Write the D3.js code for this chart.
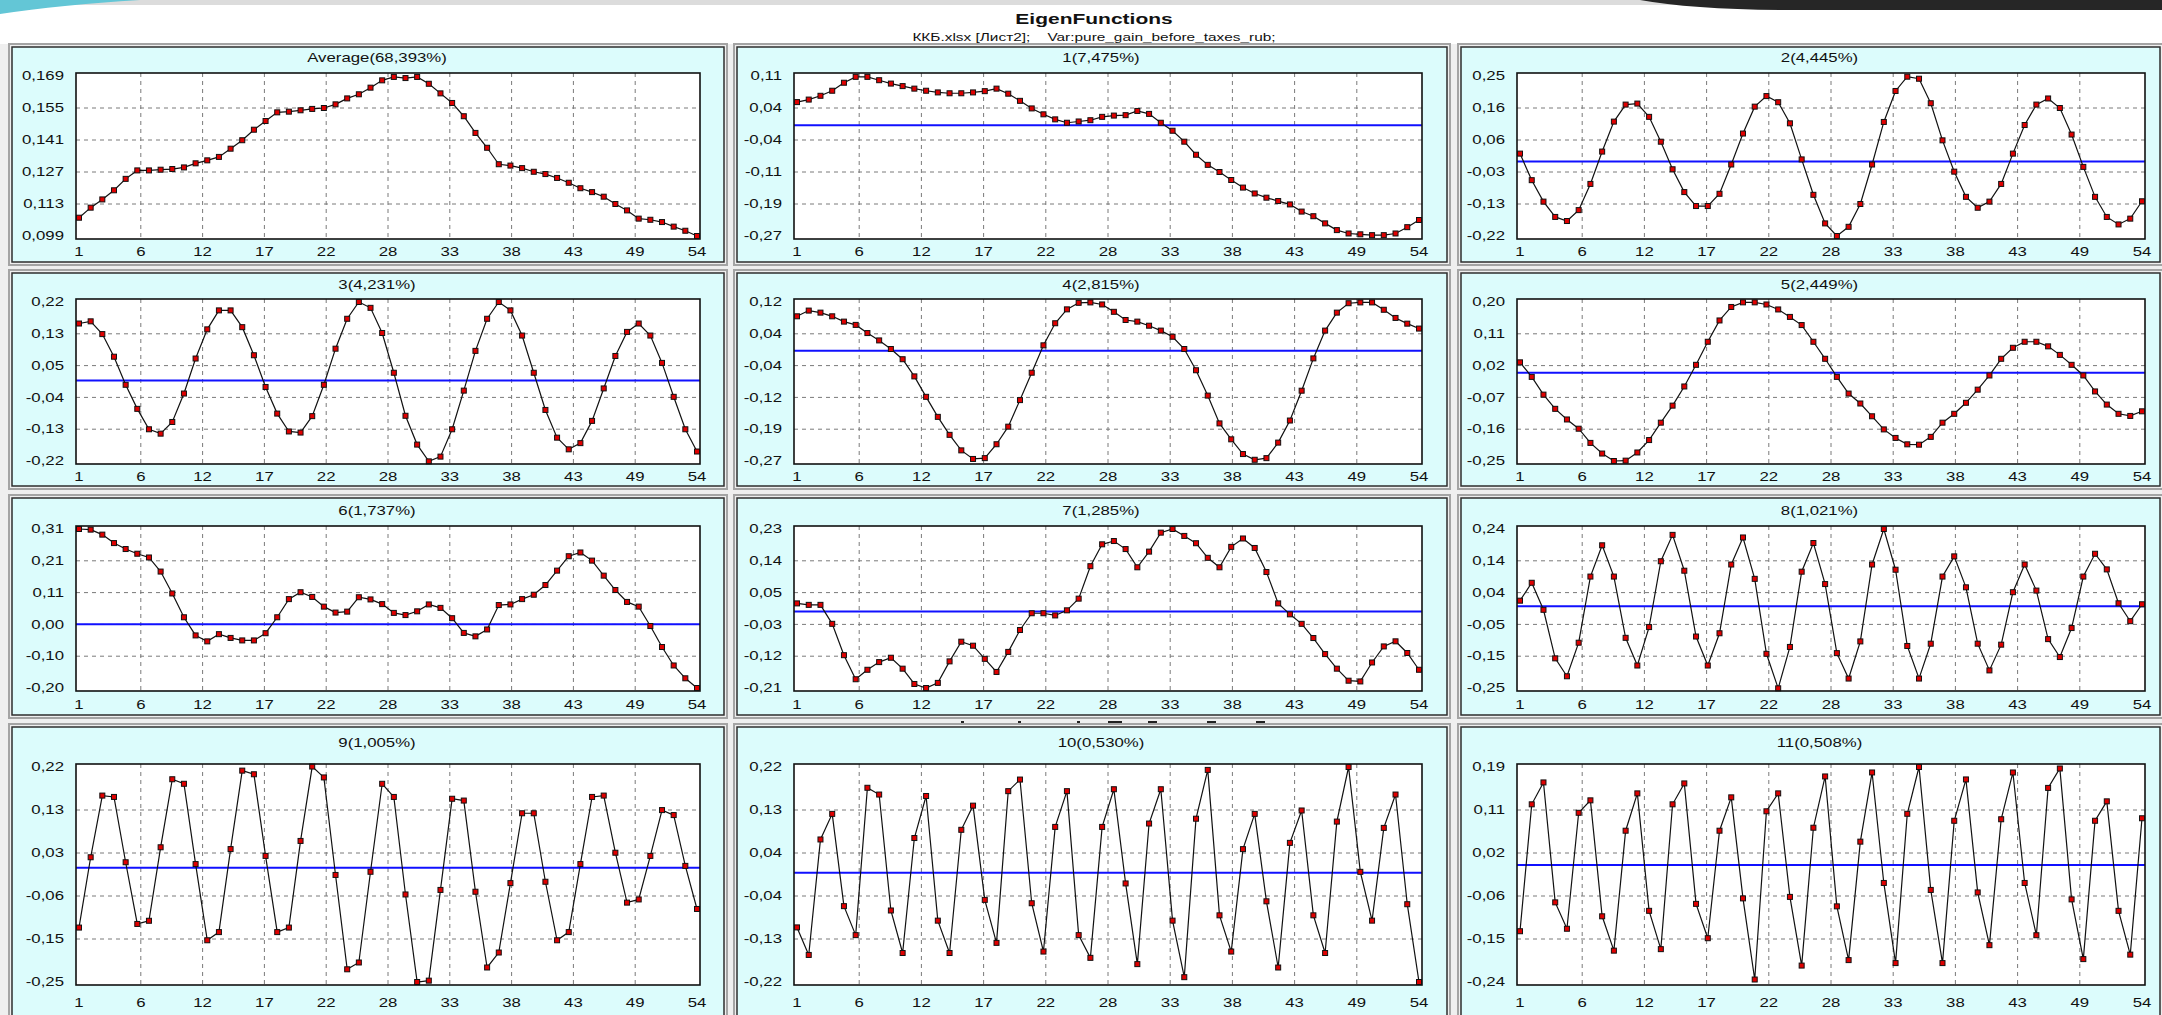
<!DOCTYPE html>
<html>
<head>
<meta charset="utf-8">
<script src="https://cdn.jsdelivr.net/npm/d3@7"></script>
<style>
body { margin: 0; background: #fff; }
svg { display: block; }
</style>
</head>
<body>
<script>
// x categories: observation number 1..54
const points = d3.range(1, 55);
const xTickValues = [1, 6.3, 11.6, 16.9, 22.2, 27.5, 32.8, 38.1, 43.4, 48.7, 54];
const xTickLabels = ["1", "6", "12", "17", "22", "28", "33", "38", "43", "49", "54"];

const panelTitles = ["Average(68,393%)", "1(7,475%)", "2(4,445%)", "3(4,231%)", "4(2,815%)", "5(2,449%)",
    "6(1,737%)", "7(1,285%)", "8(1,021%)", "9(1,005%)", "10(0,530%)", "11(0,508%)"];

const avgValues = [0.107, 0.1114, 0.115, 0.119, 0.124, 0.1277, 0.1277, 0.128, 0.1283, 0.129,
    0.1308, 0.1321, 0.1336, 0.1372, 0.1409, 0.1455, 0.1493, 0.1531, 0.1534, 0.154,
    0.1546, 0.155, 0.1566, 0.1592, 0.161, 0.1639, 0.1671, 0.1686, 0.1681, 0.1686,
    0.1656, 0.1614, 0.1572, 0.1514, 0.1441, 0.1376, 0.1304, 0.1298, 0.1287, 0.1271,
    0.1261, 0.1244, 0.1223, 0.1199, 0.1182, 0.1162, 0.113, 0.1102, 0.1066, 0.1061,
    0.1051, 0.1031, 0.1013, 0.099];
const ef1 = [0.055, 0.061, 0.070, 0.082, 0.101, 0.115, 0.115, 0.107, 0.099, 0.093,
    0.087, 0.082, 0.078, 0.076, 0.076, 0.078, 0.081, 0.087, 0.075, 0.058,
    0.040, 0.026, 0.014, 0.006, 0.009, 0.012, 0.020, 0.023, 0.024, 0.034,
    0.027, 0.006, -0.013, -0.039, -0.070, -0.094, -0.111, -0.130, -0.148, -0.162,
    -0.172, -0.180, -0.188, -0.205, -0.216, -0.233, -0.249, -0.257, -0.259, -0.261,
    -0.261, -0.257, -0.242, -0.225];
const ef2 = [0.023, -0.055, -0.118, -0.163, -0.175, -0.143, -0.066, 0.029, 0.117, 0.167,
    0.170, 0.131, 0.058, -0.023, -0.090, -0.131, -0.131, -0.095, -0.009, 0.082,
    0.161, 0.192, 0.174, 0.112, 0.006, -0.098, -0.182, -0.219, -0.192, -0.125,
    -0.009, 0.116, 0.207, 0.249, 0.243, 0.171, 0.062, -0.030, -0.104, -0.136,
    -0.118, -0.066, 0.023, 0.107, 0.167, 0.185, 0.157, 0.079, -0.016, -0.104,
    -0.163, -0.185, -0.168, -0.117];
const ef3 = [0.156, 0.162, 0.127, 0.065, -0.012, -0.078, -0.134, -0.146, -0.114, -0.036,
    0.060, 0.140, 0.192, 0.192, 0.146, 0.069, -0.018, -0.091, -0.140, -0.143,
    -0.098, -0.012, 0.087, 0.169, 0.215, 0.199, 0.130, 0.021, -0.097, -0.176,
    -0.222, -0.209, -0.134, -0.028, 0.081, 0.169, 0.215, 0.192, 0.123, 0.021,
    -0.081, -0.157, -0.189, -0.172, -0.111, -0.022, 0.067, 0.133, 0.156, 0.123,
    0.048, -0.045, -0.134, -0.195];
const ef4 = [0.084, 0.098, 0.093, 0.084, 0.071, 0.063, 0.043, 0.025, 0.004, -0.021,
    -0.063, -0.113, -0.162, -0.206, -0.244, -0.265, -0.263, -0.229, -0.186, -0.121,
    -0.054, 0.013, 0.067, 0.101, 0.117, 0.118, 0.113, 0.095, 0.075, 0.071,
    0.061, 0.049, 0.034, 0.004, -0.048, -0.110, -0.178, -0.217, -0.253, -0.267,
    -0.263, -0.225, -0.171, -0.098, -0.019, 0.049, 0.093, 0.116, 0.118, 0.118,
    0.100, 0.080, 0.066, 0.054];
const ef5 = [0.029, -0.012, -0.062, -0.102, -0.132, -0.158, -0.198, -0.228, -0.249, -0.248,
    -0.225, -0.190, -0.141, -0.093, -0.039, 0.022, 0.087, 0.147, 0.185, 0.198,
    0.198, 0.192, 0.178, 0.157, 0.134, 0.087, 0.039, -0.012, -0.059, -0.087,
    -0.123, -0.160, -0.184, -0.202, -0.203, -0.181, -0.141, -0.116, -0.085, -0.048,
    -0.008, 0.039, 0.070, 0.087, 0.087, 0.074, 0.050, 0.022, -0.008, -0.053,
    -0.090, -0.116, -0.122, -0.109];
const ef6 = [0.304, 0.302, 0.286, 0.259, 0.240, 0.225, 0.213, 0.168, 0.098, 0.022,
    -0.036, -0.055, -0.032, -0.044, -0.052, -0.052, -0.029, 0.022, 0.080, 0.102,
    0.087, 0.056, 0.037, 0.040, 0.086, 0.079, 0.064, 0.036, 0.029, 0.041,
    0.063, 0.052, 0.019, -0.028, -0.039, -0.017, 0.061, 0.063, 0.080, 0.094,
    0.125, 0.171, 0.217, 0.229, 0.203, 0.155, 0.109, 0.071, 0.056, -0.006,
    -0.073, -0.132, -0.173, -0.204];
const ef7 = [0.022, 0.018, 0.018, -0.034, -0.120, -0.186, -0.160, -0.139, -0.127, -0.157,
    -0.199, -0.210, -0.196, -0.137, -0.083, -0.094, -0.130, -0.166, -0.111, -0.051,
    -0.005, -0.005, -0.011, 0.003, 0.035, 0.124, 0.184, 0.193, 0.171, 0.121,
    0.164, 0.216, 0.226, 0.207, 0.187, 0.147, 0.121, 0.177, 0.200, 0.174,
    0.108, 0.022, -0.008, -0.034, -0.073, -0.117, -0.157, -0.190, -0.192, -0.140,
    -0.096, -0.082, -0.114, -0.160];
const ef8 = [0.017, 0.072, -0.011, -0.160, -0.215, -0.112, 0.091, 0.187, 0.091, -0.097,
    -0.182, -0.064, 0.138, 0.219, 0.109, -0.093, -0.182, -0.083, 0.128, 0.211,
    0.084, -0.146, -0.252, -0.125, 0.106, 0.194, 0.068, -0.144, -0.222, -0.108,
    0.128, 0.237, 0.112, -0.122, -0.222, -0.115, 0.091, 0.153, 0.058, -0.115,
    -0.197, -0.118, 0.043, 0.128, 0.048, -0.101, -0.156, -0.067, 0.091, 0.161,
    0.113, 0.009, -0.046, 0.006];
const ef9 = [-0.132, 0.023, 0.159, 0.156, 0.012, -0.124, -0.117, 0.045, 0.195, 0.185,
    0.008, -0.160, -0.142, 0.041, 0.214, 0.206, 0.026, -0.142, -0.132, 0.059,
    0.223, 0.199, -0.016, -0.224, -0.209, -0.009, 0.185, 0.156, -0.059, -0.252,
    -0.249, -0.049, 0.152, 0.148, -0.053, -0.220, -0.187, -0.034, 0.120, 0.120,
    -0.031, -0.160, -0.142, 0.008, 0.156, 0.159, 0.033, -0.077, -0.070, 0.026,
    0.127, 0.116, 0.004, -0.091];
const ef10 = [-0.113, -0.170, 0.069, 0.122, -0.069, -0.129, 0.176, 0.162, -0.078, -0.166,
    0.072, 0.159, -0.099, -0.166, 0.089, 0.139, -0.056, -0.145, 0.169, 0.193,
    -0.063, -0.163, 0.095, 0.169, -0.129, -0.176, 0.095, 0.173, -0.022, -0.189,
    0.102, 0.173, -0.099, -0.216, 0.112, 0.213, -0.088, -0.163, 0.049, 0.122,
    -0.059, -0.196, 0.062, 0.129, -0.088, -0.166, 0.106, 0.219, 0.002, -0.099,
    0.093, 0.162, -0.065, -0.226];
const ef11 = [-0.133, 0.122, 0.166, -0.075, -0.128, 0.105, 0.130, -0.103, -0.172, 0.069,
    0.144, -0.092, -0.169, 0.122, 0.164, -0.078, -0.147, 0.069, 0.136, -0.067,
    -0.230, 0.108, 0.144, -0.064, -0.202, 0.075, 0.178, -0.083, -0.191, 0.047,
    0.186, -0.036, -0.197, 0.103, 0.197, -0.050, -0.197, 0.089, 0.172, -0.055,
    -0.161, 0.092, 0.186, -0.036, -0.141, 0.155, 0.194, -0.069, -0.189, 0.089,
    0.128, -0.092, -0.180, 0.094];

const seriesList = [avgValues, ef1, ef2, ef3, ef4, ef5, ef6, ef7, ef8, ef9, ef10, ef11];

// value extent shown in each panel (bottom, top)
const yDomains = [[0.099, 0.169], [-0.263, 0.117], [-0.219, 0.251], [-0.221, 0.215],
    [-0.270, 0.119], [-0.249, 0.199], [-0.204, 0.304], [-0.210, 0.226],
    [-0.251, 0.237], [-0.252, 0.222], [-0.226, 0.219], [-0.235, 0.197]];

// y tick labels, top to bottom
const yTickLabels = [
    ["0,169", "0,155", "0,141", "0,127", "0,113", "0,099"],
    ["0,11", "0,04", "-0,04", "-0,11", "-0,19", "-0,27"],
    ["0,25", "0,16", "0,06", "-0,03", "-0,13", "-0,22"],
    ["0,22", "0,13", "0,05", "-0,04", "-0,13", "-0,22"],
    ["0,12", "0,04", "-0,04", "-0,12", "-0,19", "-0,27"],
    ["0,20", "0,11", "0,02", "-0,07", "-0,16", "-0,25"],
    ["0,31", "0,21", "0,11", "0,00", "-0,10", "-0,20"],
    ["0,23", "0,14", "0,05", "-0,03", "-0,12", "-0,21"],
    ["0,24", "0,14", "0,04", "-0,05", "-0,15", "-0,25"],
    ["0,22", "0,13", "0,03", "-0,06", "-0,15", "-0,25"],
    ["0,22", "0,13", "0,04", "-0,04", "-0,13", "-0,22"],
    ["0,19", "0,11", "0,02", "-0,06", "-0,15", "-0,24"]
];

const width = 2162;
const height = 1015;
const stretch = 1.4; // the screenshot is stretched horizontally
const fontFamily = "'Liberation Sans', Arial, sans-serif";

const colFrames = [[12, 724], [737, 1447], [1461, 2160]];
const colPlots = [[76, 700], [794, 1422], [1517, 2145]];
const rowFrames = [[47, 262], [273, 486], [498, 715], [727, 1040]];
const rowPlots = [[73, 239], [299, 464], [526, 691], [764, 985]];
const rowTitleY = [58, 285, 511, 743];
const rowXLabelY = [252, 477, 705, 1003];

const svg = d3.select("body").append("svg")
    .attr("width", width)
    .attr("height", height);

function label(g, x, y, str, size, anchor, weight) {
    return g.append("text")
        .attr("transform", `translate(${x},${y}) scale(${stretch},1)`)
        .attr("text-anchor", anchor)
        .attr("dominant-baseline", "central")
        .style("font-family", fontFamily)
        .style("font-size", size + "px")
        .style("font-weight", weight || "normal")
        .style("white-space", "pre")
        .attr("fill", "#111")
        .text(str);
}

// Background and window decoration
svg.append("rect").attr("width", width).attr("height", height).attr("fill", "#fff");
svg.append("rect").attr("x", 0).attr("y", 44).attr("width", width).attr("height", height - 44).attr("fill", "#efefef");
svg.append("rect").attr("x", 0).attr("y", 0).attr("width", width).attr("height", 5).attr("fill", "#dcdcdc");
svg.append("path").attr("d", "M0,0 L140,0 Q60,5 0,14 Z").attr("fill", "#63c6d6");
svg.append("path").attr("d", "M1640,0 Q1690,9 1780,10 L2162,10 L2162,0 Z").attr("fill", "#262626");

label(svg, 1094, 19, "EigenFunctions", 15, "middle", "bold");
label(svg, 1094, 37, "ККБ.xlsx [Лист2];    Var:pure_gain_before_taxes_rub;", 11, "middle");

// bits of a hidden caption peeking out between rows
const hiddenBits = [[961, 3], [1018, 3], [1077, 3], [1108, 14], [1148, 9], [1207, 9], [1256, 9]];
svg.selectAll(".bit").data(hiddenBits).join("rect")
    .attr("class", "bit")
    .attr("x", d => d[0]).attr("y", 721).attr("width", d => d[1]).attr("height", 2)
    .attr("fill", "#222");

seriesList.forEach((values, i) => {
    const col = i % 3;
    const row = Math.floor(i / 3);
    const [fl, fr] = colFrames[col];
    const [ft, fb] = rowFrames[row];
    const [pl, pr] = colPlots[col];
    const [pt, pb] = rowPlots[row];

    const g = svg.append("g");

    // panel frame
    g.append("rect")
        .attr("x", fl - 3).attr("y", ft - 3)
        .attr("width", fr - fl + 6).attr("height", fb - ft + 6)
        .attr("fill", "none").attr("stroke", "#a4a4a4").attr("stroke-width", 2);
    g.append("rect")
        .attr("x", fl).attr("y", ft)
        .attr("width", fr - fl).attr("height", fb - ft)
        .attr("fill", "#dcfcfc").attr("stroke", "#2e2e2e").attr("stroke-width", 1.5);

    label(g, (fl + fr) / 2 + 9, rowTitleY[row], panelTitles[i], 12, "middle");

    const x = d3.scaleLinear().domain([1, 54]).range([pl + 3, pr - 3]);
    const y = d3.scaleLinear().domain(yDomains[i]).range([pb - 3, pt + 3]);

    g.append("rect")
        .attr("x", pl).attr("y", pt)
        .attr("width", pr - pl).attr("height", pb - pt)
        .attr("fill", "#fff");

    const [d0, d1] = yDomains[i];
    const yTicks = d3.range(6).map(k => d1 - k * (d1 - d0) / 5);

    // dashed grid
    g.selectAll(".vgrid").data(xTickValues.slice(1, -1)).join("line")
        .attr("class", "vgrid")
        .attr("x1", d => x(d)).attr("x2", d => x(d))
        .attr("y1", pt).attr("y2", pb)
        .attr("stroke", "#7a7a7a").attr("stroke-dasharray", "4,4");
    g.selectAll(".hgrid").data(yTicks.slice(1, -1)).join("line")
        .attr("class", "hgrid")
        .attr("x1", pl).attr("x2", pr)
        .attr("y1", d => y(d)).attr("y2", d => y(d))
        .attr("stroke", "#7a7a7a").attr("stroke-dasharray", "4,4");

    // zero line for the eigenfunctions
    if (i > 0) {
        g.append("line")
            .attr("x1", pl).attr("x2", pr)
            .attr("y1", y(0)).attr("y2", y(0))
            .attr("stroke", "#1010ff").attr("stroke-width", 2);
    }

    const line = d3.line().x((d, k) => x(points[k])).y(d => y(d));
    g.append("path")
        .attr("d", line(values))
        .attr("fill", "none").attr("stroke", "#111").attr("stroke-width", 1.2);

    g.selectAll(".pt").data(values).join("rect")
        .attr("class", "pt")
        .attr("x", (d, k) => x(points[k]) - 2.5)
        .attr("y", d => y(d) - 2.5)
        .attr("width", 5).attr("height", 5)
        .attr("fill", "#e00000").attr("stroke", "#111").attr("stroke-width", 1);

    g.append("rect")
        .attr("x", pl).attr("y", pt)
        .attr("width", pr - pl).attr("height", pb - pt)
        .attr("fill", "none").attr("stroke", "#111").attr("stroke-width", 1.6);

    // tick labels
    yTicks.forEach((v, k) => {
        label(g, pl - 12, y(v), yTickLabels[i][k], 12, "end");
    });
    xTickValues.forEach((v, k) => {
        label(g, x(v), rowXLabelY[row], xTickLabels[k], 12, "middle");
    });
});
</script>
</body>
</html>
